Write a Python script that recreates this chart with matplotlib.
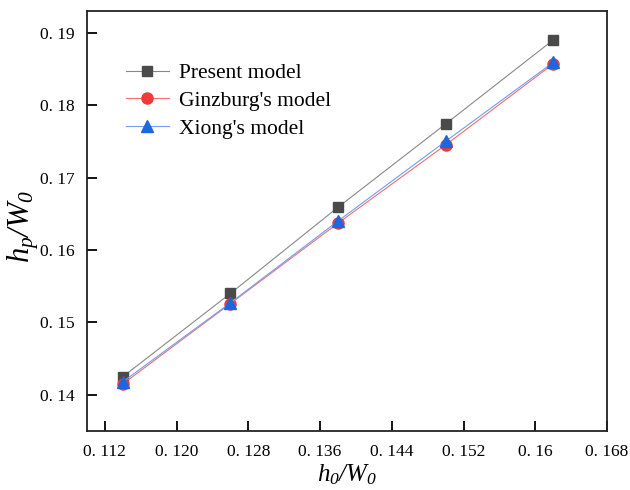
import numpy as np
import matplotlib
matplotlib.use("Agg")
import matplotlib.pyplot as plt

plt.rcParams['font.family'] = ['Liberation Serif', 'DejaVu Serif']
# axis labels are fully italic, subscript digits included
plt.rcParams['mathtext.fontset'] = 'custom'
plt.rcParams['mathtext.it'] = 'Liberation Serif:italic'
plt.rcParams['mathtext.rm'] = 'Liberation Serif:italic'

# data
x = [0.114, 0.126, 0.138, 0.150, 0.162]
present = [0.1425, 0.1540, 0.1659, 0.1774, 0.1890]
ginzburg = [0.1415, 0.1526, 0.1637, 0.1745, 0.1857]
xiong = [0.1418, 0.1527, 0.1640, 0.1750, 0.1859]

xticks = [0.112, 0.120, 0.128, 0.136, 0.144, 0.152, 0.160, 0.168]
xticklabels = ["0. 112", "0. 120", "0. 128", "0. 136", "0. 144", "0. 152", "0. 16", "0. 168"]
yticks = [0.14, 0.15, 0.16, 0.17, 0.18, 0.19]
yticklabels = ["0. 14", "0. 15", "0. 16", "0. 17", "0. 18", "0. 19"]

fig = plt.figure(figsize=(6.3, 4.9), dpi=100)
ax = fig.add_axes([87/630, 1-431/490, (607-87)/630, (431-11)/490])

ax.plot(x, present, color='#888888', lw=0.8, marker='s', ms=7,
        mfc='#4a4a4a', mec='#4a4a4a', label='Present model')
ax.plot(x, ginzburg, color='#f07070', lw=0.8, marker='o', ms=8,
        mfc='#f03a3a', mec='#f03a3a', label="Ginzburg's model")
ax.plot(x, xiong, color='#6f9ff0', lw=0.8, marker='^', ms=9,
        mfc='#1c66e0', mec='#1c66e0', label="Xiong's model")

ax.set_xlim(0.110, 0.168)
ax.set_ylim(0.135, 0.193)
ax.set_xticks(xticks)
ax.set_xticklabels(xticklabels)
ax.set_yticks(yticks)
ax.set_yticklabels(yticklabels)
ax.tick_params(direction='in', length=7, width=1.3, labelsize=12.5, pad=9,
               top=False, right=False)
for s in ax.spines.values():
    s.set_linewidth(1.3)
    s.set_color('#222222')

ax.set_xlabel(r'$h_0/W_0$', fontsize=18, labelpad=2)
ax.set_ylabel(r'$h_p/W_0$', fontsize=22)
ax.yaxis.set_label_coords(-0.088, 0.486)

ax.legend(loc='upper left', bbox_to_anchor=(0.037, 0.922), frameon=False,
          fontsize=15.5, handlelength=2.0, handletextpad=0.5, labelspacing=0.36)

fig.savefig('out.png', dpi=100)
